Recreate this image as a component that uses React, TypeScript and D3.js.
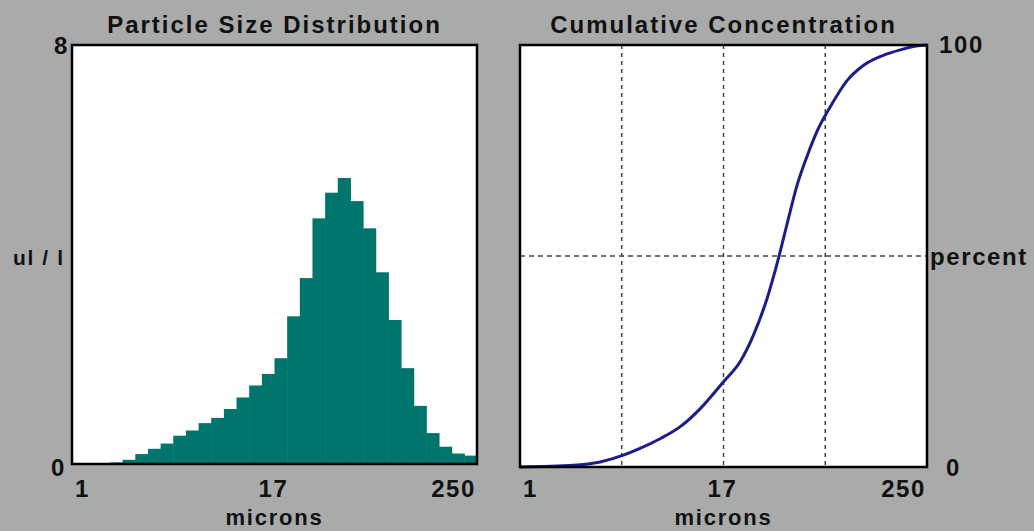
import React from 'react';
import * as d3 from 'd3';

// histogram heights (ul / l), 32 log-spaced bins from 1 to 256 microns
const binHeights = [
  0, 0, 0, 0.03, 0.08, 0.19, 0.29, 0.39, 0.54, 0.64, 0.78, 0.88, 1.05, 1.27, 1.5, 1.72,
  2.02, 2.82, 3.55, 4.69, 5.18, 5.46, 5.02, 4.5, 3.66, 2.75, 1.83, 1.11, 0.59, 0.33, 0.2, 0.16,
];

// cumulative concentration curve: microns vs percent
const cumMicrons = [1, 2.07, 2.98, 4.09, 5.13, 6.74, 8.84, 11.7, 16, 20.1, 24.1, 29, 33.1, 38, 43.4, 49.9, 57.3, 68.4, 85.9, 108, 140, 180, 225, 256];
const cumPercent = [0, 0.4, 1.2, 2.8, 4.4, 6.7, 9.5, 13.9, 20.2, 25, 31.3, 40, 48, 57.5, 66.5, 73.6, 79.6, 85.3, 91.5, 95.2, 97.5, 98.9, 99.8, 100];

const xTickLabels = ['1', '17', '250'];
const gridMicrons = [4, 16, 64];

const FONT = '"Liberation Sans", Arial, sans-serif';
const BG = '#a9abaa';

const App = () => {
  const W = 1034;
  const H = 531;

  // left panel
  const L = { x0: 72, x1: 477, y0: 45, y1: 464 };
  // right panel
  const R = { x0: 520, x1: 927, y0: 45, y1: 467 };

  const nBins = binHeights.length;
  const xBinL = d3.scaleLog().domain([1, 256]).range([L.x0, L.x1]);
  const yL = d3.scaleLinear().domain([0, 8]).range([L.y1, L.y0]);
  const binEdge = (i: number) => Math.pow(256, i / nBins);

  const xR = d3.scaleLog().domain([1, 256]).range([R.x0, R.x1]);
  const yR = d3.scaleLinear().domain([0, 100]).range([R.y1, R.y0]);

  const line = d3
    .line<number>()
    .x((d, i) => xR(cumMicrons[i]))
    .y((d) => yR(d))
    .curve(d3.curveMonotoneX);

  const txt = {
    fontFamily: FONT,
    fontWeight: 700,
    fontSize: 24,
    letterSpacing: 1.6,
    fill: '#111',
  } as React.CSSProperties;

  const xLabels = (p: { x0: number; x1: number }) =>
    xTickLabels.map((t, i) => {
      const anchor = i === 0 ? 'start' : i === xTickLabels.length - 1 ? 'end' : 'middle';
      const x = i === 0 ? p.x0 + 3 : i === xTickLabels.length - 1 ? p.x1 - 1 : (p.x0 + p.x1) / 2 - 1;
      return (
        <text key={t} x={x} y={497} textAnchor={anchor} style={txt}>
          {t}
        </text>
      );
    });

  const micronsStyle = { ...txt, fontSize: 22, letterSpacing: 1.8 };

  return (
    <svg width={W} height={H} style={{ position: 'absolute', left: 0, top: 0, background: BG }}>
      <rect width={W} height={H} fill={BG} />

      {/* left panel: particle size distribution */}
      <text x={(L.x0 + L.x1) / 2} y={33} textAnchor="middle" style={{ ...txt, letterSpacing: 2 }}>
        Particle Size Distribution
      </text>
      <rect x={L.x0} y={L.y0} width={L.x1 - L.x0} height={L.y1 - L.y0} fill="#fff" />
      {binHeights.map((v, i) =>
        v > 0 ? (
          <rect
            key={i}
            x={xBinL(binEdge(i))}
            y={yL(v)}
            width={xBinL(binEdge(i + 1)) - xBinL(binEdge(i)) + 0.5}
            height={yL(0) - yL(v)}
            fill="#00756b"
          />
        ) : null
      )}
      <rect x={L.x0} y={L.y0} width={L.x1 - L.x0} height={L.y1 - L.y0} fill="none" stroke="#000" strokeWidth={2.5} />
      <text x={69} y={54} textAnchor="end" style={txt}>8</text>
      <text x={66} y={476} textAnchor="end" style={txt}>0</text>
      <text x={13} y={265} style={{ ...txt, fontSize: 21 }}>ul / l</text>
      {xLabels(L)}
      <text x={(L.x0 + L.x1) / 2} y={525} textAnchor="middle" style={micronsStyle}>microns</text>

      {/* right panel: cumulative concentration */}
      <text x={(R.x0 + R.x1) / 2} y={33} textAnchor="middle" style={{ ...txt, letterSpacing: 2 }}>
        Cumulative Concentration
      </text>
      <rect x={R.x0} y={R.y0} width={R.x1 - R.x0} height={R.y1 - R.y0} fill="#fff" />
      {gridMicrons.map((g) => (
        <line key={g} x1={xR(g)} x2={xR(g)} y1={R.y0} y2={R.y1} stroke="#444" strokeWidth={1.5} strokeDasharray="4 4" />
      ))}
      <line x1={R.x0} x2={R.x1} y1={yR(50)} y2={yR(50)} stroke="#444" strokeWidth={1.5} strokeDasharray="5 4" />
      <path d={line(cumPercent) || ''} fill="none" stroke="#1c1c8a" strokeWidth={3} />
      <rect x={R.x0} y={R.y0} width={R.x1 - R.x0} height={R.y1 - R.y0} fill="none" stroke="#000" strokeWidth={2.5} />
      <text x={939} y={53} style={txt}>100</text>
      <text x={946} y={476} style={txt}>0</text>
      <text x={930} y={265} style={txt}>percent</text>
      {xLabels(R)}
      <text x={(R.x0 + R.x1) / 2} y={525} textAnchor="middle" style={micronsStyle}>microns</text>
    </svg>
  );
};

export default App;
